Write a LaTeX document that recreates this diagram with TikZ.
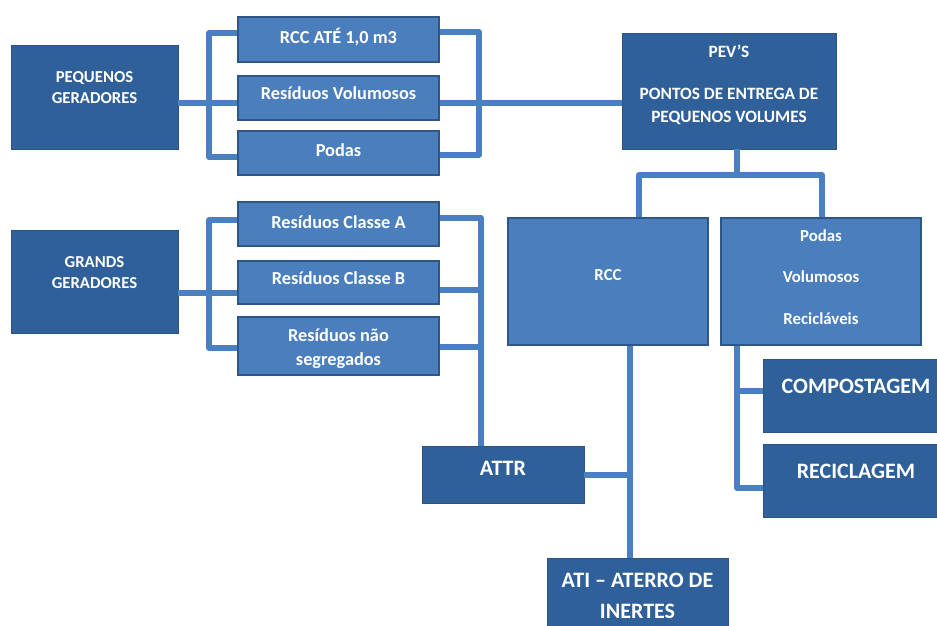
\documentclass[tikz,border=0pt]{standalone}
\usepackage{fontspec}
\setmainfont{Carlito}
\definecolor{darkb}{HTML}{30609A}
\definecolor{darkline}{HTML}{2A5486}
\definecolor{lightb}{HTML}{4A7EBD}
\definecolor{lightline}{HTML}{2E5688}
\definecolor{connc}{HTML}{4A7FC2}
\newcommand{\boxtxt}[2]{\raisebox{#1}[0pt][0pt]{\begin{tabular}{@{}c@{}}#2\end{tabular}}}
\begin{document}
\begin{tikzpicture}[x=1pt,y=-1pt,
  base/.style={rectangle, inner sep=0pt, text=white},
  dbox/.style={base, fill=darkb, draw=darkline, line width=0.8pt},
  lbox/.style={base, fill=lightb, draw=lightline, line width=1.2pt},
  sz/.style 2 args={minimum width=#1, minimum height=#2},
  fsmall/.style={font=\fontsize{18.3}{21}\selectfont\bfseries},
  fgen/.style={font=\fontsize{16.7}{21}\selectfont\bfseries},
  fpev/.style={font=\fontsize{17.3}{23}\selectfont\bfseries},
  fmid/.style={font=\fontsize{16.8}{23}\selectfont\bfseries},
  fbig/.style={font=\fontsize{22}{31}\selectfont\bfseries},
  conn/.style={draw=connc, line width=6pt, line join=round}]
\useasboundingbox (0,0) rectangle (937,626);
\fill[white] (0,0) rectangle (937,626);
\clip (0,0) rectangle (937,626);

% nodes
\node[dbox, sz={167}{104}, fgen] (pg) at (94.5,97) {\boxtxt{3.5pt}{PEQUENOS\\GERADORES}};
\node[lbox, sz={201}{45}, fsmall] (rcc1) at (338.5,39.5) {\boxtxt{-4pt}{RCC ATÉ 1,0 m3}};
\node[lbox, sz={201}{44}, fsmall] (rv) at (338.5,98) {\boxtxt{-2pt}{Resíduos Volumosos}};
\node[lbox, sz={201}{44}, fsmall] (podas) at (338.5,153) {\boxtxt{-4pt}{Podas}};
\node[dbox, sz={214}{116}, fpev] (pev) at (729,91) {\boxtxt{1.5pt}{PEV’S\\[19.5pt]PONTOS DE ENTREGA DE\\PEQUENOS VOLUMES}};
\node[dbox, sz={167}{103}, fgen] (gg) at (94.5,281.5) {\boxtxt{3.5pt}{GRANDS\\GERADORES}};
\node[lbox, sz={201}{44}, fsmall] (ca) at (338.5,224) {\boxtxt{-5pt}{Resíduos Classe A}};
\node[lbox, sz={201}{43}, fsmall] (cb) at (338.5,282.5) {\boxtxt{-2.5pt}{Resíduos Classe B}};
\node[lbox, sz={201}{58}, fsmall] (ns) at (338.5,346) {\boxtxt{-8pt}{Resíduos não\\[3pt]segregados}};
\node[lbox, sz={200}{127}, fmid] (rccb) at (608,281.5) {\boxtxt{1pt}{RCC}};
\node[lbox, sz={200}{127}, fmid] (pvr) at (821,281.5) {\boxtxt{-1pt}{Podas\\[18.5pt]Volumosos\\[18.5pt]Recicláveis}};
\node[dbox, sz={186}{73}, fbig] (comp) at (856,395.5) {\boxtxt{3.5pt}{COMPOSTAGEM}};
\node[dbox, sz={186}{73}, fbig] (rec) at (856,480.5) {\boxtxt{3.5pt}{RECICLAGEM}};
\node[dbox, sz={162}{57}, fbig] (attr) at (503,474.5) {\boxtxt{0.5pt}{ATTR}};
\node[dbox, sz={181}{92}, fbig] (ati) at (637.5,604) {\boxtxt{2.5pt}{ATI – ATERRO DE\\INERTES}};

% connectors: pequenos geradores
\draw[conn] ([yshift=-6pt]pg.east) -- ([yshift=-5pt]rv.west);
\draw[conn] ([yshift=6.5pt]rcc1.west) -- ++(-28,0) |- ([yshift=-4pt]podas.west);
\draw[conn] ([yshift=7.5pt]rcc1.east) -- ++(39,0) |- ([yshift=-2pt]podas.east);
\draw[conn] ([yshift=-5pt]rv.east) -- ([yshift=-12pt]pev.west);

% grandes geradores
\draw[conn] ([yshift=-11.5pt]gg.east) -- ([yshift=-10.5pt]cb.west);
\draw[conn] ([yshift=4pt]ca.west) -- ++(-28,0) |- ([yshift=-2pt]ns.west);
\coordinate (av) at ([xshift=-22pt]attr.north);
\draw[conn] ([yshift=6pt]ca.east) -| (av);
\draw[conn] ([yshift=-7pt]cb.east) -- ++(42,0);
\draw[conn] ([yshift=-1pt]ns.east) -- ++(42,0);

% PEV branches
\coordinate (pj) at ([xshift=8pt,yshift=-26pt]pev.south);
\draw[conn] ([xshift=8pt]pev.south) -- (pj);
\draw[conn] ([xshift=31pt]rccb.north) |- (pj) -| ([xshift=1pt]pvr.north);

% RCC to ATI, ATTR join
\coordinate (rl) at ([xshift=22pt]rccb.south);
\draw[conn] (rl) -- ([xshift=-7.5pt]ati.north);
\draw[conn] (attr.east) -- (attr.east -| rl);

% Podas/Volumosos/Reciclaveis to compostagem / reciclagem
\coordinate (pl) at ([xshift=-84pt]pvr.south);
\draw[conn] (pl) |- ([yshift=-7.5pt]rec.west);
\coordinate (cw) at ([yshift=4.5pt]comp.west);
\draw[conn] (cw) -- (pl |- cw);
\end{tikzpicture}
\end{document}
